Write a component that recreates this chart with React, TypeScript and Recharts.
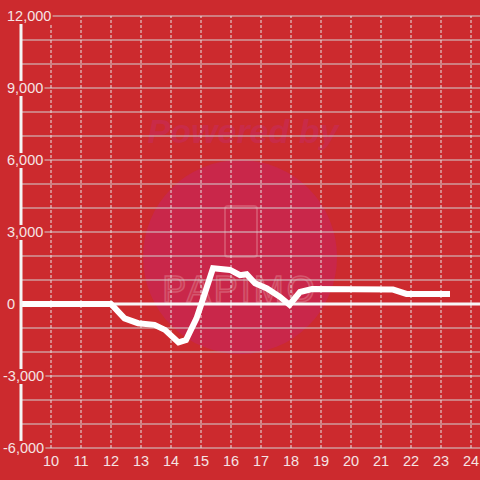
import React from 'react';
import { LineChart, Line, XAxis, YAxis, CartesianGrid, ReferenceLine } from 'recharts';

// hours of the day (x) and the running difference (y)
const hours = [9, 12, 12.45, 12.9, 13.45, 13.8, 14.25, 14.5, 14.85, 15.0, 15.4, 15.97, 16.3, 16.52, 16.8, 17.2, 17.63, 17.95, 18.3, 18.7, 21.4, 21.85, 23.3];
const diff = [0, 0, -600, -800, -870, -1080, -1600, -1500, -600, -40, 1490, 1420, 1200, 1240, 860, 650, 300, -30, 500, 620, 600, 420, 420];

const xTicks = [10, 11, 12, 13, 14, 15, 16, 17, 18, 19, 20, 21, 22, 23, 24];
const yTicks = [-6000, -3000, 0, 3000, 6000, 9000, 12000];
const yGrid = [-6000, -5000, -4000, -3000, -2000, -1000, 0, 1000, 2000, 3000, 4000, 5000, 6000, 7000, 8000, 9000, 10000, 11000, 12000];

const data = hours.map((h, i) => ({ hour: h, value: diff[i] }));

const BG = '#cc2a2e';
const TEXT = '#f5e4e4';
const FONT = '"Liberation Sans", Arial, sans-serif';

const fmt = (v: number) => v.toLocaleString('en-US');

const charWidth = (c: string) => (c === ',' ? 4.1 : c === '-' ? 4.9 : 8.1);

// y labels sit on a red box so they cut through the axis line
const YTick = (props: any) => {
  const { y, payload } = props;
  const label = fmt(payload.value);
  const x = payload.value < 0 ? 3 : 7;
  const w = label.split('').reduce((s, c) => s + charWidth(c), 0);
  return (
    <g>
      <rect x={x - 1} y={y - 7} width={w + 2} height={15} fill={BG} />
      <text x={x} y={y} dy={5} fill={TEXT} fontSize={14.5} fontFamily={FONT} textAnchor="start">
        {label}
      </text>
    </g>
  );
};

const Watermark = () => (
  <svg width={480} height={480} style={{ position: 'absolute', left: 0, top: 0 }}>
    <circle cx={240} cy={257} r={97} fill="#c9274a" />
    <text x={243} y={143} textAnchor="middle" fontSize={34} fontWeight="bold" fontStyle="italic" fontFamily={FONT} fill="#c92b48">
      Powered by
    </text>
    <rect x={225} y={206} width={32} height={51} rx={3} fill="none" stroke="#d4506a" strokeWidth={2} />
    <text x={240} y={302} textAnchor="middle" fontSize={36} fontFamily={FONT} fill="#cd3752" stroke="#d4566e" strokeWidth={1.5} letterSpacing={3}>
      PAPIMO
    </text>
  </svg>
);

export default function App() {
  return (
    <div style={{ position: 'absolute', left: 0, top: 0, width: 480, height: 480, background: BG, overflow: 'hidden' }}>
      <Watermark />
      <div style={{ position: 'absolute', left: 0, top: 0 }}>
        <LineChart width={480} height={480} data={data} margin={{ top: 16, right: 0, left: 0, bottom: 0 }}>
          <CartesianGrid vertical={false} horizontalValues={yGrid} stroke="#d2d2d2" strokeWidth={1} />
          {xTicks.map((t) => (
            <ReferenceLine key={t} x={t} stroke="#e6e6e6" strokeDasharray="3 2" strokeWidth={1} />
          ))}
          <XAxis
            dataKey="hour"
            type="number"
            domain={[9, 24.3]}
            ticks={xTicks}
            allowDataOverflow
            axisLine={false}
            tickLine={false}
            height={32}
            tick={{ fill: TEXT, fontSize: 14.5, fontFamily: FONT }}
          />
          <YAxis
            type="number"
            domain={[-6000, 12000]}
            ticks={yTicks}
            allowDataOverflow
            width={21}
            axisLine={{ stroke: '#f4f4f4', strokeWidth: 3 }}
            tickLine={false}
            tick={<YTick />}
          />
          <ReferenceLine y={0} stroke="#f7f7f7" strokeWidth={3} />
          <Line
            type="linear"
            dataKey="value"
            stroke="#ffffff"
            strokeWidth={6}
            dot={false}
            isAnimationActive={false}
          />
        </LineChart>
      </div>
    </div>
  );
}
